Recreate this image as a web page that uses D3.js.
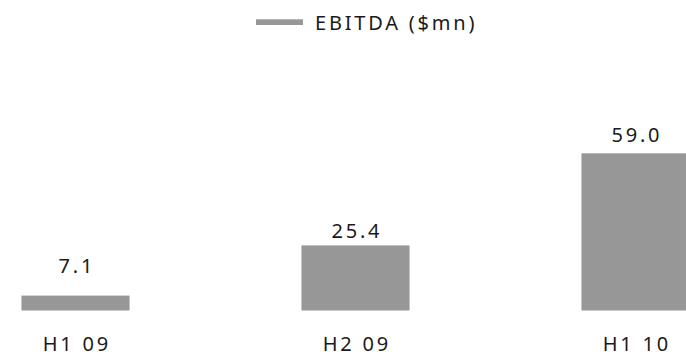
<!DOCTYPE html>
<html>
<head>
<meta charset="utf-8">
<script src="https://cdn.jsdelivr.net/npm/d3@7"></script>
<style>
  html, body { margin: 0; padding: 0; background: #fff; }
  svg text { font-family: "Noto Sans", "Open Sans", sans-serif; fill: #1a1a1a; }
</style>
</head>
<body>
<svg id="chart" width="686" height="354"></svg>
<script>
// EBITDA by half-year, $mn
const periods = ["H1 09", "H2 09", "H1 10"];
const ebitda = [7.1, 25.4, 59.0];
const seriesName = "EBITDA ($mn)";

const W = 686, H = 354;
const barColor = "#979797";
const baseY = 310.5;
const fontSize = 20;
const spacing = 2.8;

const svg = d3.select("#chart");

// category bands, one wide bar per period
const x = d3.scaleBand()
  .domain(periods)
  .range([-64.5, 775.5])
  .paddingInner(0.614)
  .paddingOuter(0.307);

// bar heights use a value axis that does not start at zero
const y = d3.scaleLinear()
  .domain([1.66, 59])
  .range([baseY, 153.3]);

// value labels ride on a zero-based scale, kept clear of the category row
const yLabel = d3.scaleLinear()
  .domain([0, 59])
  .range([baseY, 142]);
const labelFloor = 273;

const data = periods.map((p, i) => ({ period: p, value: ebitda[i] }));

svg.append("g")
  .selectAll("rect")
  .data(data)
  .join("rect")
  .attr("x", d => x(d.period))
  .attr("y", d => y(d.value))
  .attr("width", x.bandwidth())
  .attr("height", d => baseY - y(d.value))
  .attr("fill", barColor);

// letter-spacing adds trailing space, so nudge centred text back by half of it
svg.append("g")
  .selectAll("text")
  .data(data)
  .join("text")
  .attr("x", d => x(d.period) + x.bandwidth() / 2 + spacing / 2)
  .attr("y", d => Math.min(yLabel(d.value), labelFloor))
  .attr("text-anchor", "middle")
  .attr("font-size", fontSize)
  .attr("letter-spacing", spacing)
  .text(d => d.value.toFixed(1));

// category axis labels
const xAxis = d3.axisBottom(x).tickSize(0).tickPadding(0);
const gx = svg.append("g")
  .attr("transform", `translate(${spacing / 2},${baseY})`)
  .call(xAxis);
gx.select(".domain").remove();
gx.selectAll("text")
  .attr("y", 40)
  .attr("dy", null)
  .attr("font-size", fontSize)
  .attr("letter-spacing", spacing)
  .style("font-family", "\"Noto Sans\", sans-serif")
  .attr("fill", "#1a1a1a");

// legend
const lg = svg.append("g");
lg.append("rect")
  .attr("x", 256).attr("y", 19.3)
  .attr("width", 47).attr("height", 5.7)
  .attr("fill", barColor);
lg.append("text")
  .attr("x", 315).attr("y", 29.7)
  .attr("font-size", fontSize)
  .attr("letter-spacing", spacing)
  .text(seriesName);
</script>
</body>
</html>
